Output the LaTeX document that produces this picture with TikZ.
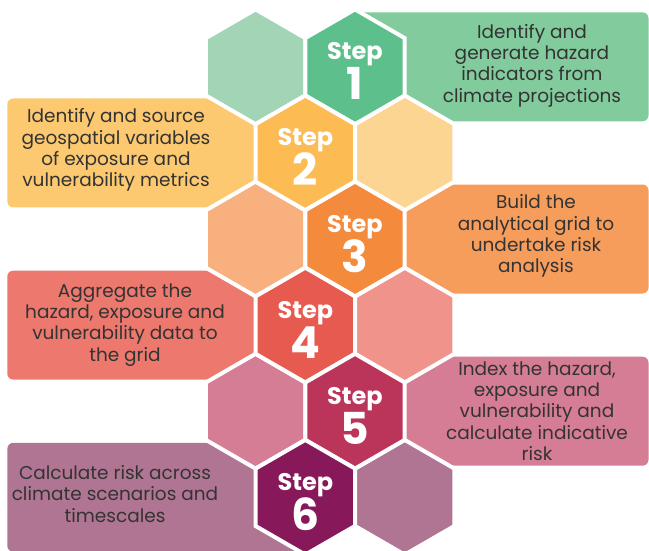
\documentclass[tikz,border=0pt]{standalone}
\usepackage{fontspec}
\setmainfont{Poppins}
\usetikzlibrary{shapes,positioning}
\definecolor{mint}{RGB}{162,212,182}
\definecolor{jade}{RGB}{93,191,139}
\definecolor{fern}{RGB}{130,203,157}
\definecolor{sand}{RGB}{253,213,146}
\definecolor{saffron}{RGB}{253,187,84}
\definecolor{maize}{RGB}{253,201,112}
\definecolor{apricot}{RGB}{248,176,127}
\definecolor{tangerine}{RGB}{244,138,60}
\definecolor{carrot}{RGB}{247,157,92}
\definecolor{blush}{RGB}{240,147,139}
\definecolor{vermilion}{RGB}{230,90,79}
\definecolor{salmon}{RGB}{236,120,110}
\definecolor{rosewood}{RGB}{213,125,148}
\definecolor{raspberry}{RGB}{187,53,90}
\definecolor{orchid}{RGB}{176,117,146}
\definecolor{plum}{RGB}{135,25,90}
\definecolor{charcoal}{RGB}{51,51,51}
\tikzset{hexcell/.style={regular polygon,regular polygon sides=6,shape border rotate=30,minimum size=114.8pt,inner sep=0pt,draw=white,line width=4pt}}
\tikzset{stepword/.style={anchor=base,text=white,font=\fontsize{24}{24}\selectfont\bfseries,inner sep=0pt}}
\tikzset{stepnum/.style={anchor=base,text=white,font=\fontsize{44}{44}\selectfont\bfseries,inner sep=0pt}}
\tikzset{desc/.style={align=center,text=charcoal,font=\fontsize{18.5}{21.3}\selectfont,inner sep=0pt}}
\tikzset{banner/.style={rounded corners=6pt}}
\begin{document}
\begin{tikzpicture}[x=1pt,y=-1pt]

	\useasboundingbox (0,0) rectangle (649,551);
	\fill[banner,fern] (355,12.3) rectangle (648.5,121.3);
	\fill[banner,maize] (7.3,98.4) rectangle (305.3,207.4);
	\fill[banner,carrot] (355,184.5) rectangle (648.5,293.5);
	\fill[banner,salmon] (7.3,270.6) rectangle (305.3,379.6);
	\fill[banner,rosewood] (355,356.7) rectangle (648.5,465.7);
	\fill[banner,orchid] (7.3,442.8) rectangle (305.3,551.8);

	\node[hexcell,fill=mint] (h1) at (255.6,66.8) {};
	\node[hexcell,fill=sand] (h2) at (404.7,152.9) {};
	\node[hexcell,fill=apricot] (h3) at (255.6,239.0) {};
	\node[hexcell,fill=blush] (h4) at (404.7,325.1) {};
	\node[hexcell,fill=rosewood] (h5) at (255.6,411.2) {};
	\node[hexcell,fill=orchid] (h6) at (404.7,497.3) {};

	\node[hexcell,fill=jade] (s1) at (355,66.8) {};
	\node[hexcell,fill=saffron] (s2) at (305.3,152.9) {};
	\node[hexcell,fill=tangerine] (s3) at (355,239.0) {};
	\node[hexcell,fill=vermilion] (s4) at (305.3,325.1) {};
	\node[hexcell,fill=raspberry] (s5) at (355,411.2) {};
	\node[hexcell,fill=plum] (s6) at (305.3,497.3) {};

	\node[stepword] (w1) at (355,59.8) {Step};
	\node[stepnum] (n1) at (355,99.8) {1};
	\node[stepword] (w2) at (305.3,145.9) {Step};
	\node[stepnum] (n2) at (305.3,185.9) {2};
	\node[stepword] (w3) at (355,232.0) {Step};
	\node[stepnum] (n3) at (355,272.0) {3};
	\node[stepword] (w4) at (305.3,318.1) {Step};
	\node[stepnum] (n4) at (305.3,358.1) {4};
	\node[stepword] (w5) at (355,404.2) {Step};
	\node[stepnum] (n5) at (355,444.2) {5};
	\node[stepword] (w6) at (305.3,490.3) {Step};
	\node[stepnum] (n6) at (305.3,530.3) {6};

	\node[desc] (t1) at (532,65.5) {Identify and\\generate hazard\\indicators from\\climate projections};
	\node[desc] (t2) at (116,150) {Identify and source\\geospatial variables\\of exposure and\\vulnerability metrics};
	\node[desc] (t3) at (536,236) {Build the\\analytical grid to\\undertake risk\\analysis};
	\node[desc] (t4) at (125,325) {Aggregate the\\hazard, exposure and\\vulnerability data to\\the grid};
	\node[desc] (t5) at (537,411) {Index the hazard,\\exposure and\\vulnerability and\\calculate indicative\\risk};
	\node[desc] (t6) at (115,494) {Calculate risk across\\climate scenarios and\\timescales};
\end{tikzpicture}
\end{document}
